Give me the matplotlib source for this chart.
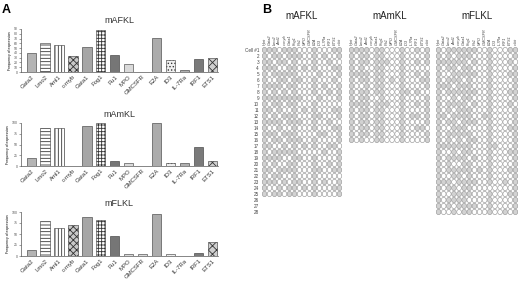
import matplotlib
matplotlib.use("Agg")
import matplotlib.pyplot as plt
from matplotlib.patches import Ellipse
import numpy as np

plt.rcParams['font.family'] = ['Liberation Sans', 'DejaVu Sans']
plt.rcParams['hatch.linewidth'] = 0.6

# bar chart data (panel A), % of cells expressing
genes = ['Gata2', 'Lmo2', 'Aml1', 'c-myb', 'Gata1', 'Fog1', 'Pu1', 'MPO',
         'GMCSFR', 'E2A', 'ID3', 'IL-7Ra', 'IRF1', 'ETS1']
mafkl = [40, 60, 56, 34, 52, 88, 36, 17, 1, 72, 26, 5, 28, 30]
mamkl = [19, 87.5, 87.5, 0, 94, 100, 12.5, 8, 0, 100, 6, 6, 44, 12.5]
mflkl = [14, 79, 64, 71, 89, 82, 46, 4, 4, 96, 4, 0, 7, 32]

# fill / hatch per gene
bar_colors = ['#b4b4b4', 'white', 'white', '#c8c8c8', '#a6a6a6', 'white',
              '#767676', '#dadada', '#dadada', '#acacac', '#f0f0f0', '#b0b0b0',
              '#7a7a7a', '#d0d0d0']
bar_hatch = [None, '-----', '|||||', 'xxxxx', None, '+++++', None, None,
             None, None, '.....', None, None, 'xxxx']

# single cell data (panel B): 1 = expressed
heat_genes = ['Hprt', 'Gata2', 'Lmo2', 'Aml1', 'c-myb', 'Gata1', 'Fog1', 'Pu1',
              'MPO', 'GMCSFR', 'E2A', 'ID3', 'IL7Ra', 'IRF1', 'ETS1', 'c-kit']
cells_afkl = [
    "1110111000100011", "1011011100101001", "1101101000100100", "1110011010100011",
    "1011111000010001", "1001101100100010", "1111011000101001", "1010101000100101",
    "1111111100010001", "1011011000100000", "1101001010100011", "1010111000110001",
    "1111011100100100", "1001001000100011", "1110111000011001", "1011011100100001",
    "1100101010100110", "1011111000001001", "1111001100100001", "1010011000100101",
    "1101111000110011", "1011001000100000", "1110101100101001", "1001011010100011",
    "1011011000100001",
]
cells_amkl = [
    "1111011000100101", "1011011000100001", "1011011100100101", "1010011000100000",
    "1111011000100101", "1011011010100011", "1001011000100001", "1011011000110100",
    "1011001000100001", "1111011100100101", "1011011000100001", "1011011000101101",
    "1011011000100001", "1011011000100110", "1011011000100001", "1010011000100001",
]
cells_flkl = [
    "1011111100100011", "1010111000100001", "1111110100100010", "1011011000100001",
    "1001111100100011", "1011101000100001", "1110111000100001", "1011111100100011",
    "1001011000100001", "1011110100100010", "1010111000100001", "1101111001100001",
    "1011011100100001", "1001110000100011", "1011111000100001", "1010101100100001",
    "1111111000110001", "1001011000100011", "1011110100100001", "1010011000100001",
    "1011111010100011", "1001101000100001", "1110111100100101", "1011011000000001",
    "1001111000100011", "1011110000100001", "1010111100100001", "1001011000100101",
]

W, H = 520, 284
fig = plt.figure(figsize=(W / 100, H / 100), dpi=100)


def px_axes(x0, y0, x1, y1):
    return fig.add_axes([x0 / W, 1 - y1 / H, (x1 - x0) / W, (y1 - y0) / H])


def bar_panel(box, vals, title, ymax, yticks):
    ax = px_axes(*box)
    x = np.arange(len(genes))
    for i, v in enumerate(vals):
        ax.bar(x[i], v, width=0.66, color=bar_colors[i], hatch=bar_hatch[i],
               edgecolor='#333333', linewidth=0.4)
    ax.set_xlim(-0.75, 13.4)
    ax.set_ylim(0, ymax)
    ax.set_yticks(yticks)
    ax.tick_params(axis='y', labelsize=2.5, length=1.2, width=0.4, pad=0.8, colors='#555555')
    ax.set_xticks(x)
    ax.set_xticklabels(genes, rotation=45, ha='right', rotation_mode='anchor',
                       fontsize=4.3, color='#333333')
    ax.tick_params(axis='x', length=0, pad=1.5)
    for s in ['top', 'right']:
        ax.spines[s].set_visible(False)
    for s in ['left', 'bottom']:
        ax.spines[s].set_linewidth(0.5)
        ax.spines[s].set_color('#555555')
    ax.set_ylabel('Frequency of expression', fontsize=2.5, labelpad=1.5)
    ax.set_title(title, fontsize=6.5, pad=4, color='#333333')
    return ax


bar_panel((20.7, 29, 218, 72), mafkl, 'mAFKL', 90, range(0, 91, 10))
bar_panel((20.7, 123, 218, 166), mamkl, 'mAmKL', 100, [0, 25, 50, 75, 100])
bar_panel((20.7, 212, 218, 256), mflkl, 'mFLKL', 100, [0, 25, 50, 75, 100])

fig.text(2 / W, 1 - 10 / H, 'A', fontsize=9, fontweight='bold', va='center')
fig.text(262 / W, 1 - 10 / H, 'B', fontsize=9, fontweight='bold', va='center')


def heat_panel(x0, x1, cells, title, row_labels=False):
    n = len(cells)
    top = 47
    ax = px_axes(x0, top, x1, top + 6 * n)
    ax.set_xlim(0, len(heat_genes))
    ax.set_ylim(n, 0)
    ax.axis('off')
    for i, row in enumerate(cells):
        for j, c in enumerate(row):
            fc = '#d2d2d2' if c == '1' else 'white'
            ax.add_patch(Ellipse((j + 0.5, i + 0.5), 0.9, 0.88, facecolor=fc,
                                 edgecolor='#9a9a9a', linewidth=0.45))
    for j, g in enumerate(heat_genes):
        ax.text(j + 0.5, -0.35, g, rotation=90, ha='center', va='bottom',
                fontsize=2.8, style='italic', color='#444444')
    ax.text(len(heat_genes) / 2, -4.4, title, ha='center', va='bottom',
            fontsize=7, color='#222222')
    if row_labels:
        for i in range(28):
            lab = 'Cell #1' if i == 0 else str(i + 1)
            ax.text(-0.6, i + 0.5, lab, ha='right', va='center', fontsize=3.3,
                    color='#444444', clip_on=False)
    return ax


heat_panel(262, 342, cells_afkl, 'mAFKL', row_labels=True)
heat_panel(349, 430, cells_amkl, 'mAmKL')
heat_panel(436, 518, cells_flkl, 'mFLKL')

fig.savefig('out.png', dpi=100)
